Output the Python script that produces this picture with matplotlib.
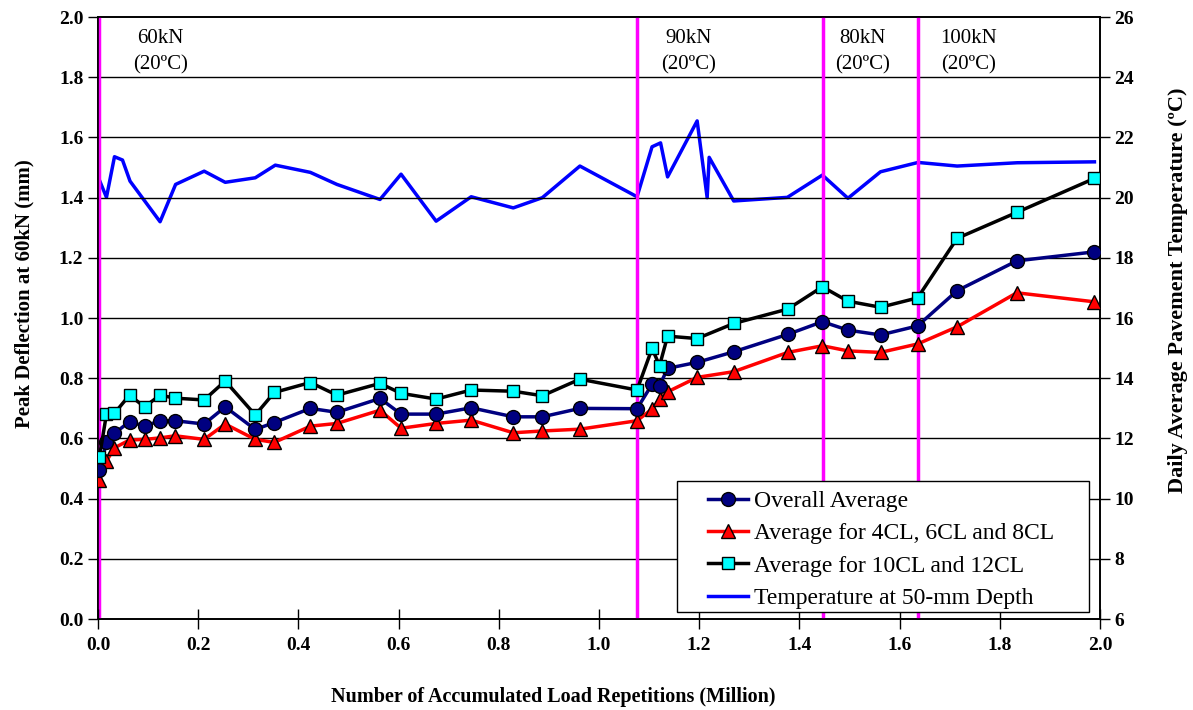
import matplotlib
matplotlib.use("Agg")
import matplotlib.pyplot as plt
from matplotlib.patches import Rectangle

plt.rcParams['font.family'] = ['Liberation Serif', 'DejaVu Serif']

# load repetitions (million)
x_dev = [0.003, 0.017, 0.033, 0.063, 0.093, 0.124, 0.154, 0.212, 0.254, 0.314, 0.352,
         0.424, 0.477, 0.563, 0.605, 0.675, 0.745, 0.829, 0.887, 0.962, 1.076,
         1.106, 1.121, 1.137, 1.196, 1.269, 1.377, 1.446, 1.497, 1.562, 1.636,
         1.715, 1.834, 1.989]
overall = [0.495, 0.587, 0.617, 0.656, 0.641, 0.659, 0.659, 0.648, 0.705, 0.630, 0.653,
           0.700, 0.687, 0.733, 0.681, 0.681, 0.702, 0.672, 0.672, 0.700, 0.699,
           0.780, 0.775, 0.833, 0.853, 0.888, 0.946, 0.988, 0.960, 0.944, 0.974,
           1.091, 1.190, 1.220]
avg_4_6_8 = [0.462, 0.525, 0.569, 0.595, 0.597, 0.602, 0.609, 0.597, 0.648, 0.597, 0.587,
             0.641, 0.650, 0.694, 0.634, 0.650, 0.661, 0.619, 0.625, 0.631, 0.659,
             0.698, 0.731, 0.755, 0.803, 0.822, 0.886, 0.908, 0.891, 0.886, 0.914,
             0.971, 1.084, 1.054]
avg_10_12 = [0.539, 0.681, 0.684, 0.744, 0.705, 0.744, 0.734, 0.728, 0.791, 0.678, 0.753,
             0.786, 0.744, 0.783, 0.750, 0.731, 0.761, 0.757, 0.742, 0.797, 0.761,
             0.899, 0.842, 0.940, 0.932, 0.982, 1.030, 1.104, 1.056, 1.036, 1.067,
             1.265, 1.351, 1.464]

x_temp = [0.003, 0.017, 0.033, 0.049, 0.064, 0.124, 0.155, 0.212, 0.254, 0.314, 0.354,
          0.424, 0.477, 0.563, 0.605, 0.675, 0.745, 0.829, 0.887, 0.962, 1.076,
          1.106, 1.123, 1.137, 1.196, 1.216, 1.220, 1.269, 1.376, 1.446, 1.497,
          1.562, 1.637, 1.715, 1.835, 1.989]
temp = [20.58, 20.01, 21.36, 21.25, 20.55, 19.20, 20.44, 20.88, 20.51, 20.66, 21.08,
        20.84, 20.44, 19.94, 20.78, 19.22, 20.03, 19.66, 20.00, 21.05, 20.03,
        21.69, 21.82, 20.69, 22.55, 20.00, 21.34, 19.89, 20.01, 20.75, 19.98,
        20.86, 21.17, 21.05, 21.16, 21.19]

stage_x = [0.003, 1.076, 1.447, 1.636]
stage_lbl = ['60kN\n(20ºC)', '90kN\n(20ºC)', '80kN\n(20ºC)', '100kN\n(20ºC)']
stage_lbl_x = [0.124, 1.179, 1.526, 1.738]

fig = plt.figure(figsize=(11.93, 7.10), dpi=100)
ax = fig.add_axes([0.0821, 0.128, 0.8399, 0.848])
ax2 = ax.twinx()

ax.set_xlim(0, 2.0)
ax.set_ylim(0, 2.0)
ax2.set_ylim(6, 26)

for v in [0.2 * i for i in range(1, 10)]:
    ax.axhline(v, color='black', lw=1, zorder=0)

for sx in stage_x:
    ax.axvline(sx, color='#FF00FF', lw=2.5, zorder=1)

for sx, s in zip(stage_lbl_x, stage_lbl):
    ax.text(sx, 1.885, s, ha='center', va='center', fontsize=15, linespacing=1.45,
            bbox=dict(facecolor='white', edgecolor='none', pad=1), zorder=2)

ax2.plot(x_temp, temp, color='#0000FF', lw=2.5, zorder=3)

l1, = ax.plot(x_dev, overall, color='#000080', lw=2.5, marker='o', ms=10,
              mfc='#000080', mec='black', mew=1, zorder=5)
l2, = ax.plot(x_dev, avg_4_6_8, color='#FF0000', lw=2.5, marker='^', ms=10,
              mfc='#FF0000', mec='black', mew=1, zorder=4)
l3, = ax.plot(x_dev, avg_10_12, color='black', lw=2.5, marker='s', ms=9,
              mfc='#00FFFF', mec='black', mew=1, zorder=6)
l4, = ax.plot([], [], color='#0000FF', lw=2.5)

ax.set_zorder(ax2.get_zorder() + 1)
ax.patch.set_visible(False)

ax.set_xticks([0.2 * i for i in range(11)])
ax.set_xticklabels(['%.1f' % (0.2 * i) for i in range(11)])
ax.set_yticks([0.2 * i for i in range(11)])
ax.set_yticklabels(['%.1f' % (0.2 * i) for i in range(11)])
ax2.set_yticks(range(6, 27, 2))

for a in (ax, ax2):
    a.tick_params(labelsize=14, width=1, length=7)
    for lab in a.get_xticklabels() + a.get_yticklabels():
        lab.set_fontweight('bold')
    for sp in a.spines.values():
        sp.set_linewidth(1.2)
ax.tick_params(axis='x', direction='inout', length=14, pad=6)

ax.set_xlabel('Number of Accumulated Load Repetitions (Million)', fontsize=14.5,
              fontweight='bold')
ax.set_ylabel('Peak Deflection at 60kN (mm)', fontsize=15, fontweight='bold')
ax2.set_ylabel('Daily Average Pavement Temperature (ºC)', fontsize=16,
               fontweight='bold')
ax.xaxis.set_label_coords(0.454, -0.112)
ax.yaxis.set_label_coords(-0.063, 0.541)
ax2.yaxis.set_label_coords(1.068, 0.547)

# legend frame drawn separately (wide side padding)
ax.add_patch(Rectangle((0.578, 0.0116), 0.411, 0.2176, transform=ax.transAxes,
                       facecolor='white', edgecolor='black', lw=1, zorder=7))
leg = ax.legend([l1, l2, l3, l4],
                ['Overall Average', 'Average for 4CL, 6CL and 8CL',
                 'Average for 10CL and 12CL', 'Temperature at 50-mm Depth'],
                loc='upper left', bbox_to_anchor=(0.609, 0.214), borderaxespad=0,
                borderpad=0, fontsize=17, frameon=False, handlelength=1.7,
                handletextpad=0.25, labelspacing=0.46)
leg.set_zorder(8)

fig.savefig('out.png', dpi=100)
